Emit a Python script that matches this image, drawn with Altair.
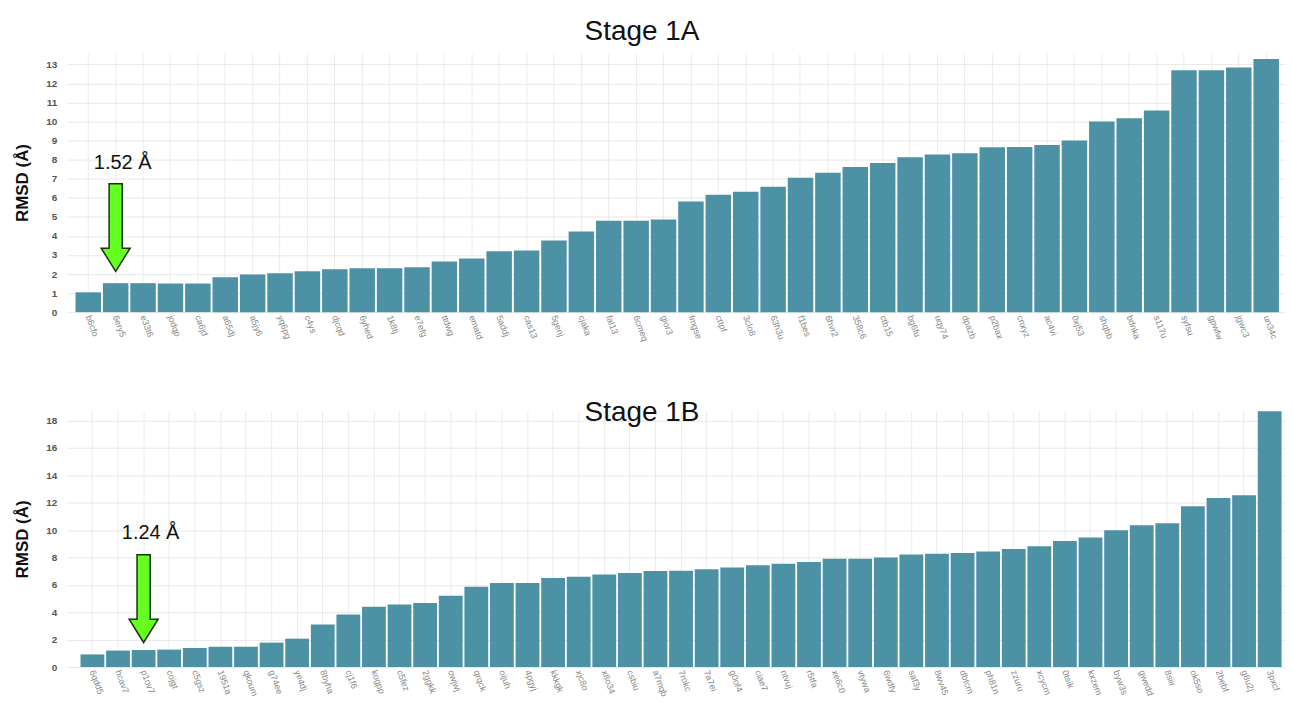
import altair as alt
import pandas as pd

# ---------------- data ----------------
top_ids = ["b6cfo", "6ery5", "e33t6", "jodqp", "ca6jd", "a65dj", "a5jy6", "yq6pg", "c4ys", "djcqd",
           "6yhed", "1k8tj", "e7efg", "ttdwg", "ematd", "5addj", "cas13", "5genj", "cjaka", "fal13",
           "6cmeq", "gior3", "fmgse", "cttpf", "3clo8", "63h3u", "f1bes", "6hvr2", "358c6", "ctb15",
           "bg6fu", "uqy74", "dpazb", "p2bax", "cnxyz", "ac4vi", "0xj53", "shqbb", "bdnka", "s117u",
           "syfsu", "gpwfw", "jgwc3", "un34c"]
top_rmsd = [1.04, 1.52, 1.52, 1.50, 1.50, 1.83, 1.98, 2.04, 2.14, 2.25,
            2.30, 2.30, 2.35, 2.66, 2.82, 3.19, 3.24, 3.76, 4.23, 4.80,
            4.80, 4.86, 5.80, 6.16, 6.32, 6.58, 7.05, 7.31, 7.62, 7.83,
            8.13, 8.27, 8.34, 8.65, 8.67, 8.77, 9.00, 10.00, 10.17, 10.58,
            12.69, 12.69, 12.83, 13.28]

bot_ids = ["6qdd5", "hcav7", "p1ov7", "cojgt", "c5gsz", "1951a", "qkoum", "g74ee", "ye4dj", "8byha",
           "cj1f6", "kogpp", "c5fez", "2ggkk", "owjwj", "qrqck", "oijuh", "4pgyj", "kkkgk", "xjc8o",
           "x8o34", "csbiu", "a7mqb", "7rokc", "7a7ei", "g0of4", "ciae7", "ntvuj", "r5tfa", "xe6c0",
           "vtywa", "6wdfy", "saf3y", "8wv45", "dbtcm", "ph81n", "zzuru", "xcycm", "0tsik", "kxzem",
           "byw3s", "gwedd", "8siir", "ok5so", "2bebf", "g8u2j", "3pxcf"]
bot_rmsd = [0.92, 1.20, 1.24, 1.27, 1.39, 1.48, 1.48, 1.78, 2.07, 3.11,
            3.84, 4.40, 4.57, 4.67, 5.20, 5.86, 6.13, 6.13, 6.50, 6.59,
            6.76, 6.86, 7.00, 7.03, 7.13, 7.27, 7.42, 7.54, 7.66, 7.90,
            7.90, 8.00, 8.22, 8.27, 8.32, 8.44, 8.61, 8.81, 9.20, 9.46,
            9.98, 10.34, 10.49, 11.73, 12.34, 12.53, 18.66]

top_title = "Stage 1A"
bot_title = "Stage 1B"
top_note = {"id": "6ery5", "label": "1.52 Å", "arrow_y": 4.44, "text_y": 7.83}
bot_note = {"id": "p1ov7", "label": "1.24 Å", "arrow_y": 4.99, "text_y": 9.80}
top_ticks = list(range(0, 14))
bot_ticks = list(range(0, 20, 2))

# ---------------- style ----------------
FONT = "Liberation Sans"
BAR = "#4C92A4"
ARROW_PATH = "M-0.15,-1L0.15,-1L0.15,0.47L0.33,0.47L0,1L-0.33,0.47L-0.15,0.47Z"
W = 1222


def panel(ids, vals, title, ymax, ticks, note, height, title_offset, pad_outer, align):
    df = pd.DataFrame({"id": ids, "rmsd": vals})
    xscale = alt.Scale(paddingInner=0.07, paddingOuter=pad_outer, align=align)
    yscale = alt.Scale(domain=[0, ymax], nice=False, zero=True)
    x_axis = alt.Axis(labelAngle=70, labelAlign="left", labelBaseline="middle",
                      ticks=False, domain=False, grid=True, gridColor="#ececec",
                      bandPosition=0.5, labelColor="#888888", labelFontSize=9,
                      labelPadding=3, labelFont=FONT, labelOverlap=False)
    y_axis = alt.Axis(values=ticks, ticks=False, domain=False, grid=True,
                      gridColor="#e8e8e8", labelColor="#555555", labelFontSize=10,
                      labelFontWeight="bold", labelPadding=10, labelFont=FONT,
                      labelOverlap=False, labelFlush=False,
                      titleFont=FONT, titleFontSize=17, titleFontWeight="bold",
                      titleColor="#111111", titlePadding=14)

    def xenc():
        return alt.X("id:N", sort=ids, title=None, scale=xscale, axis=x_axis)

    def yenc():
        return alt.Y("rmsd:Q", title="RMSD (Å)", scale=yscale, axis=y_axis)

    bars = alt.Chart(df).mark_bar(color=BAR).encode(x=xenc(), y=yenc())

    arrow_df = pd.DataFrame({"id": [note["id"]], "rmsd": [note["arrow_y"]]})
    text_df = pd.DataFrame({"id": [note["id"]], "rmsd": [note["text_y"]], "label": [note["label"]]})

    arrow = alt.Chart(arrow_df).mark_point(
        shape=ARROW_PATH, size=88 * 88, filled=True, color="#66FF22",
        stroke="#1b3300", strokeWidth=1.5, opacity=1
    ).encode(x=xenc(), y=yenc())

    text = alt.Chart(text_df).mark_text(
        font=FONT, fontSize=20, color="#111111", dx=7
    ).encode(x=xenc(), y=yenc(), text="label:N")

    return alt.layer(bars, arrow, text).properties(
        width=W, height=height,
        view=alt.ViewBackground(strokeOpacity=0, strokeWidth=0),
        title=alt.TitleParams(title, font=FONT, fontSize=28, fontWeight="normal",
                              color="#111111", offset=title_offset, anchor="middle", dx=-34),
    )


top = panel(top_ids, top_rmsd, top_title, 13.6, top_ticks, top_note, 260, 7, 0.27, 0.59)
bot = panel(bot_ids, bot_rmsd, bot_title, 18.7, bot_ticks, bot_note, 257, -16, 0.335, 0.8)

chart = alt.vconcat(top, bot, spacing=56).properties(
    padding={"left": 5, "top": 9, "right": 0, "bottom": 0}
).configure_view(strokeOpacity=0, strokeWidth=0).configure(background="white")

chart.save("out.html", embed_options={"renderer": "svg", "actions": False})
